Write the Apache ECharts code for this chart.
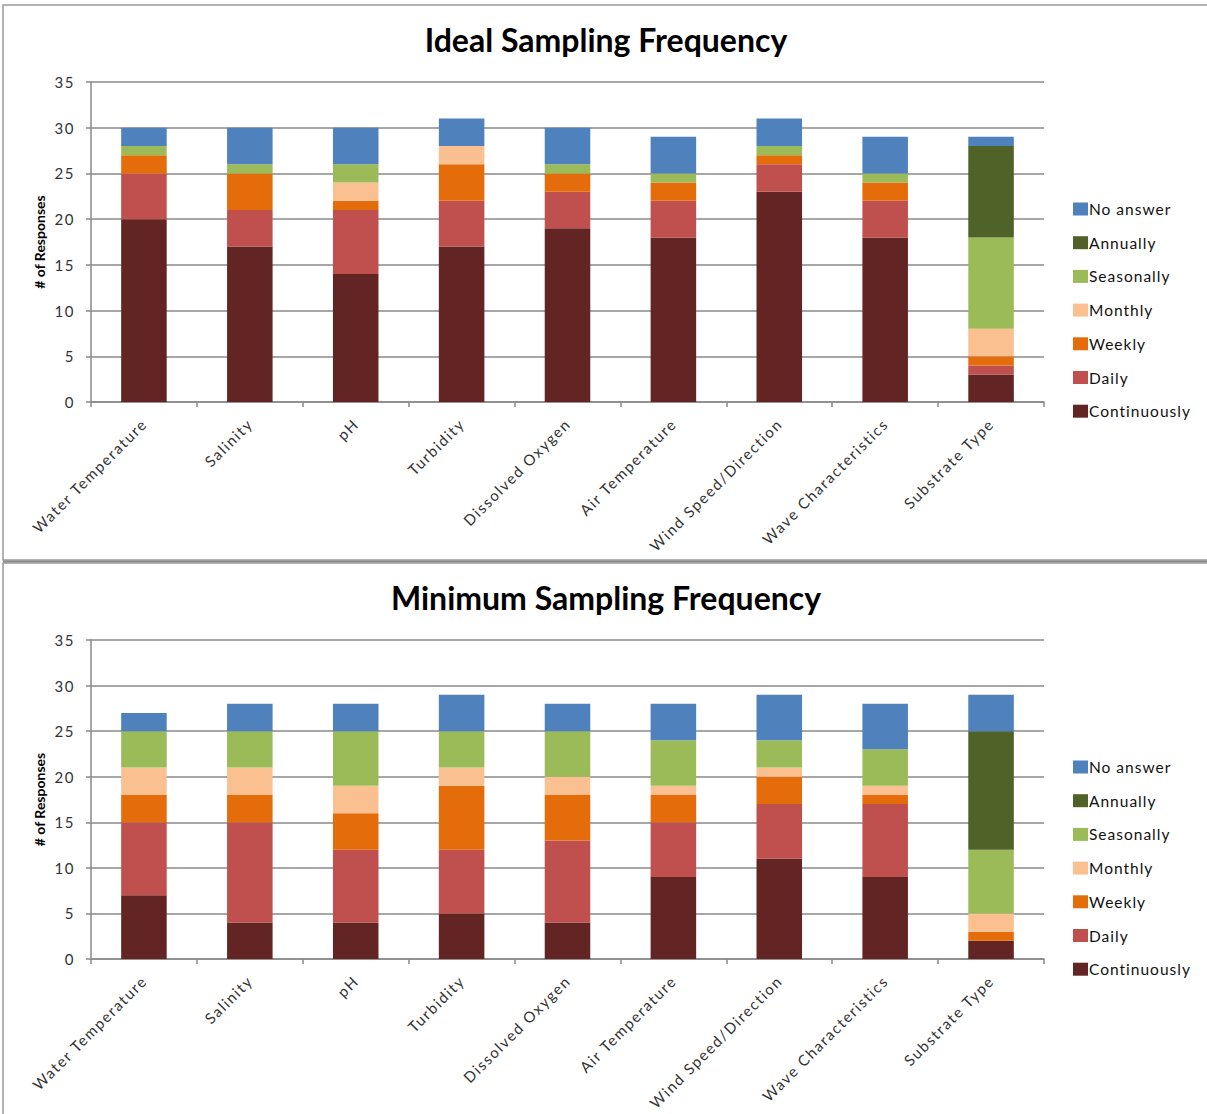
<!DOCTYPE html>
<html>
<head>
<meta charset="utf-8">
<script src="https://cdn.jsdelivr.net/npm/echarts@6/dist/echarts.min.js"></script>
<style>
html,body{margin:0;padding:0;background:#fff;}
#chart{width:1207px;height:1114px;}
#chart text[style*=" 15px"]{letter-spacing:1.6px;}
#chart text[style*="15.5px"]{letter-spacing:1px;}
#chart text[style*="bold 14px"]{letter-spacing:0.7px;}
</style>
</head>
<body>
<div id="chart"></div>
<script>
const categories = ['Water Temperature','Salinity','pH','Turbidity','Dissolved Oxygen','Air Temperature','Wind Speed/Direction','Wave Characteristics','Substrate Type'];
const seriesNames = ['Continuously','Daily','Weekly','Monthly','Seasonally','Annually','No answer'];
const yTicks = [0,5,10,15,20,25,30,35];
const chartTitles = ['Ideal Sampling Frequency','Minimum Sampling Frequency'];

// Ideal sampling frequency
const idealContinuously = [20,17,14,17,19,18,23,18,3];
const idealDaily        = [5,4,7,5,4,4,3,4,1];
const idealWeekly       = [2,4,1,4,2,2,1,2,1];
const idealMonthly      = [0,0,2,2,0,0,0,0,3];
const idealSeasonally   = [1,1,2,0,1,1,1,1,10];
const idealAnnually     = [0,0,0,0,0,0,0,0,10];
const idealNoAnswer     = [2,4,4,3,4,4,3,4,1];

// Minimum sampling frequency
const minContinuously = [7,4,4,5,4,9,11,9,2];
const minDaily        = [8,11,8,7,9,6,6,8,0];
const minWeekly       = [3,3,4,7,5,3,3,1,1];
const minMonthly      = [3,3,3,2,2,1,1,1,2];
const minSeasonally   = [4,4,6,4,5,5,3,4,7];
const minAnnually     = [0,0,0,0,0,0,0,0,13];
const minNoAnswer     = [2,3,3,4,3,4,5,5,4];

const colors = ['#632523','#C0504D','#E46C0A','#FAC090','#9BBB59','#4F6228','#4F81BD'];
const idealData = [idealContinuously,idealDaily,idealWeekly,idealMonthly,idealSeasonally,idealAnnually,idealNoAnswer];
const minData = [minContinuously,minDaily,minWeekly,minMonthly,minSeasonally,minAnnually,minNoAnswer];

const font = 'Lato, "Open Sans", sans-serif';
const gridColor = '#8a8a8a';

function xAxis(gi){
  return {
    type:'category', gridIndex:gi, data:categories,
    axisLine:{lineStyle:{color:gridColor,width:1.5}},
    axisTick:{show:true,length:5,alignWithLabel:false,lineStyle:{color:gridColor,width:1.5}},
    axisLabel:{rotate:45,fontFamily:font,fontSize:15,color:'#333',margin:19,interval:0}
  };
}
function yAxis(gi){
  return {
    type:'value', gridIndex:gi, min:0, max:35, interval:5,
    name:'# of Responses', nameLocation:'middle', nameGap:44,
    nameTextStyle:{fontFamily:font,fontSize:14,fontWeight:'bold',color:'#000'},
    axisLine:{show:true,lineStyle:{color:gridColor,width:1.5}},
    axisTick:{show:true,length:5,lineStyle:{color:gridColor,width:1.5}},
    axisLabel:{fontFamily:font,fontSize:15,color:'#333',margin:16,
      formatter:function(v){return yTicks.indexOf(v)>=0?String(v):'';}},
    splitLine:{show:true,lineStyle:{color:gridColor,width:1.5}}
  };
}

const series = [];
[idealData,minData].forEach(function(set,gi){
  set.forEach(function(arr,si){
    series.push({
      name:seriesNames[si], type:'bar', stack:'s'+gi,
      xAxisIndex:gi, yAxisIndex:gi, data:arr, barWidth:'43%',
      itemStyle:{color:colors[si]}, emphasis:{disabled:true}
    });
  });
});

const legendNames = seriesNames.slice().reverse();
function legend(top){
  return {
    orient:'vertical', left:1073, top:top, itemGap:17.7, padding:0,
    itemWidth:15, itemHeight:13, icon:'rect', data:legendNames,
    textStyle:{fontFamily:font,fontSize:15.5,color:'#111',padding:[0,0,0,-4]},
    selectedMode:false
  };
}

const chart = echarts.init(document.getElementById('chart'), null, {renderer:'svg'});
chart.setOption({
  animation:false,
  color:colors,
  legend:[legend(201),legend(759)],
  grid:[
    {left:91,top:82,width:953,height:320},
    {left:91,top:640,width:953,height:319}
  ],
  xAxis:[xAxis(0),xAxis(1)],
  yAxis:[yAxis(0),yAxis(1)],
  series:series,
  graphic:[
    {type:'rect',silent:true,shape:{x:3,y:5,width:1210,height:555},style:{fill:'none',stroke:'#9a9a9a',lineWidth:1.5}},
    {type:'rect',silent:true,shape:{x:3,y:563,width:1210,height:560},style:{fill:'none',stroke:'#9a9a9a',lineWidth:1.5}},
    {type:'line',silent:true,shape:{x1:3,y1:561.5,x2:1207,y2:561.5},style:{stroke:'#8a8a8a',lineWidth:2}},
    {type:'text',silent:true,x:606,y:39,style:{text:chartTitles[0],textAlign:'center',textVerticalAlign:'middle',fontFamily:font,fontSize:32,fontWeight:'bold',fill:'#000'}},
    {type:'text',silent:true,x:606,y:597,style:{text:chartTitles[1],textAlign:'center',textVerticalAlign:'middle',fontFamily:font,fontSize:32,fontWeight:'bold',fill:'#000'}}
  ]
});
</script>
</body>
</html>
